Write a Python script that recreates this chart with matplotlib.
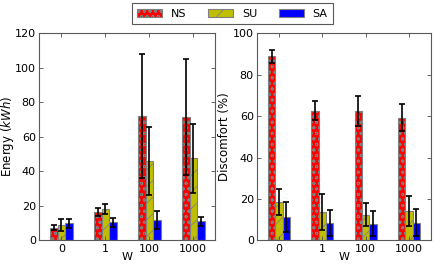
import numpy as np
import matplotlib
matplotlib.use("Agg")
import matplotlib.pyplot as plt

# weights on the x axis
weights = ["0", "1", "100", "1000"]
methods = ["NS", "SU", "SA"]

# energy (kWh) mean and error, one list per method
energy_ns = [7.2, 16.2, 72.0, 71.4]
energy_ns_err = [1.5, 2.3, 36.0, 33.8]
energy_su = [9.1, 18.1, 46.0, 47.7]
energy_su_err = [3.5, 2.9, 19.6, 20.0]
energy_sa = [9.8, 10.6, 11.6, 11.0]
energy_sa_err = [2.7, 2.6, 5.2, 2.6]

# discomfort (%) mean and error
disc_ns = [88.9, 62.7, 62.4, 59.3]
disc_ns_err = [3.2, 4.5, 7.1, 6.5]
disc_su = [18.6, 13.5, 12.4, 14.3]
disc_su_err = [6.3, 8.7, 5.7, 7.2]
disc_sa = [11.1, 8.5, 8.0, 8.5]
disc_sa_err = [7.3, 6.3, 6.0, 6.5]

plt.rcParams['font.family'] = ['DejaVu Sans']
plt.rcParams['font.size'] = 8
plt.rcParams['hatch.linewidth'] = 0.6
plt.rcParams['hatch.color'] = '0.25'

colors = ['#ff0000', '#bfbf00', '#0000ff']
hatches = ['ooo', '//', '']

fig = plt.figure(figsize=(4.36, 2.69), dpi=100)
ax1 = fig.add_axes([39.3/436, 1 - 240.3/269, 176/436, 207/269])
ax2 = fig.add_axes([257.3/436, 1 - 240.3/269, 173.4/436, 207/269])

ind = np.arange(len(weights))
width = 0.17


def draw(ax, vals, errs, ymax, ylabel, pad):
    bars = []
    for k in range(3):
        b = ax.bar(ind + (k - 1) * width, vals[k], width, yerr=errs[k],
                   color=colors[k], edgecolor='0.5', linewidth=0.8,
                   hatch=hatches[k], label=methods[k],
                   error_kw=dict(ecolor='black', elinewidth=1.2, capsize=2.2, capthick=1.2))
        bars.append(b)
    ax.set_xlim(-0.5, 3.5)
    ax.set_ylim(0, ymax)
    ax.set_yticks(np.arange(0, ymax + 1, 20))
    ax.set_xticks(ind)
    ax.set_xticklabels(weights)
    ax.set_xlabel("W", labelpad=-1)
    ax.set_ylabel(ylabel, labelpad=pad, fontsize=8.5)
    ax.tick_params(direction='in', top=True, right=True, length=3, width=0.6,
                   color='0.3', labelsize=8, pad=2.5)
    for s in ax.spines.values():
        s.set_color('0.35')
        s.set_linewidth(0.8)
    return bars


bars = draw(ax1, [energy_ns, energy_su, energy_sa],
            [energy_ns_err, energy_su_err, energy_sa_err], 120, "Energy ($kWh$)", -0.8)
draw(ax2, [disc_ns, disc_su, disc_sa],
     [disc_ns_err, disc_su_err, disc_sa_err], 100, "Discomfort (%)", 1.0)

leg = fig.legend(handles=bars, labels=methods, ncol=3, loc='upper center',
                 bbox_to_anchor=(232.5/436, 1 + 2.5/269), fancybox=False,
                 handlelength=2.2, handleheight=0.7, columnspacing=2.0,
                 borderpad=0.5, fontsize=8, framealpha=1)
leg.get_frame().set_edgecolor('0.35')
leg.get_frame().set_linewidth(0.8)

fig.savefig("out.png", dpi=100)
